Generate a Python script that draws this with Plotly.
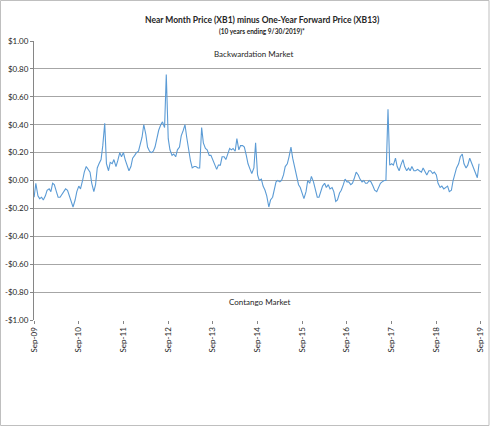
import pandas as pd
import plotly.graph_objects as go

# XB1 minus XB13, two points per month (1st and 15th)
# each list runs Oct 1 -> Sep 15 of the next year
y2010 = [-0.12, -0.02, -0.11, -0.13, -0.12, -0.14, -0.11, -0.07, -0.06, -0.08, -0.02, -0.03,
         -0.08, -0.12, -0.12, -0.10, -0.07, -0.06, -0.07, -0.11, -0.16, -0.19, -0.14, -0.08]
y2011 = [-0.04, -0.06, 0.00, 0.06, 0.10, 0.08, 0.06, -0.02, -0.08, -0.03, 0.09, 0.12,
         0.15, 0.25, 0.41, 0.12, 0.07, 0.13, 0.12, 0.15, 0.10, 0.14, 0.20, 0.17]
y2012 = [0.20, 0.15, 0.10, 0.07, 0.10, 0.16, 0.18, 0.20, 0.21, 0.25, 0.31, 0.40,
         0.33, 0.24, 0.21, 0.20, 0.21, 0.24, 0.30, 0.36, 0.40, 0.42, 0.38, 0.76]
y2013 = [0.30, 0.22, 0.18, 0.19, 0.17, 0.22, 0.24, 0.32, 0.36, 0.40, 0.31, 0.23,
         0.14, 0.09, 0.10, 0.10, 0.09, 0.09, 0.38, 0.27, 0.23, 0.22, 0.18, 0.18]
y2014 = [0.15, 0.12, 0.08, 0.11, 0.11, 0.17, 0.17, 0.15, 0.19, 0.23, 0.22, 0.23,
         0.21, 0.30, 0.22, 0.25, 0.25, 0.24, 0.18, 0.12, 0.08, 0.05, 0.09, 0.27]
y2015 = [0.04, 0.00, 0.01, -0.04, -0.07, -0.11, -0.19, -0.14, -0.12, -0.06, -0.01, 0.00,
         -0.01, 0.00, 0.04, 0.10, 0.12, 0.17, 0.24, 0.16, 0.09, 0.05, -0.03, -0.05]
y2016 = [-0.09, -0.13, -0.08, 0.00, -0.02, 0.03, -0.01, -0.06, -0.12, -0.12, -0.07, -0.04,
         -0.02, -0.05, -0.03, -0.06, -0.05, -0.08, -0.15, -0.14, -0.09, -0.07, -0.03, 0.01]
y2017 = [-0.01, -0.01, -0.03, -0.02, 0.02, 0.06, 0.04, 0.01, -0.01, 0.00, -0.02, -0.02,
         0.00, -0.01, -0.04, -0.07, -0.08, -0.05, -0.02, -0.01, 0.00, 0.00, 0.51, 0.11]
y2018 = [0.12, 0.11, 0.16, 0.10, 0.07, 0.11, 0.15, 0.10, 0.07, 0.09, 0.07, 0.10,
         0.07, 0.07, 0.08, 0.07, 0.06, 0.09, 0.06, 0.04, 0.07, 0.07, 0.05, 0.06]
y2019 = [0.04, -0.02, -0.05, -0.04, -0.06, -0.05, -0.04, -0.08, -0.07, 0.00, 0.05, 0.09,
         0.12, 0.17, 0.19, 0.12, 0.09, 0.11, 0.16, 0.13, 0.10, 0.07, 0.02, 0.12]

spread = y2010 + y2011 + y2012 + y2013 + y2014 + y2015 + y2016 + y2017 + y2018 + y2019
dates = pd.date_range("2009-10-01", periods=len(spread), freq="SMS")

x_tick_dates = ["2009-09-30", "2010-09-30", "2011-09-30", "2012-09-30", "2013-09-30", "2014-09-30",
                "2015-09-30", "2016-09-30", "2017-09-30", "2018-09-30", "2019-09-29"]
x_tick_labels = ["Sep-09", "Sep-10", "Sep-11", "Sep-12", "Sep-13", "Sep-14",
                 "Sep-15", "Sep-16", "Sep-17", "Sep-18", "Sep-19"]
y_ticks = [-1.0, -0.8, -0.6, -0.4, -0.2, 0.0, 0.2, 0.4, 0.6, 0.8, 1.0]
y_tick_labels = ["-$1.00", "-$0.80", "-$0.60", "-$0.40", "-$0.20", "$0.00",
                 "$0.20", "$0.40", "$0.60", "$0.80", "$1.00"]

FONT = "Lato"
W, H = 491, 427
ML, MR, MT, MB = 34, 10, 41, 107
pw, ph = W - ML - MR, H - MT - MB


def px_x(px):
    return (px - ML) / pw


def px_y(py):
    return (H - MB - py) / ph


fig = go.Figure()
fig.add_trace(go.Scatter(
    x=dates, y=spread, mode="lines",
    line=dict(color="#5b9bd5", width=1.1),
    showlegend=False, hoverinfo="x+y",
))

fig.update_layout(
    width=W, height=H,
    margin=dict(l=ML, r=MR, t=MT, b=MB, autoexpand=False),
    paper_bgcolor="white", plot_bgcolor="white",
    font=dict(family=FONT, size=8, color="#262626"),
    xaxis=dict(
        range=["2009-09-30", "2019-10-01"],
        tickvals=x_tick_dates, ticktext=x_tick_labels,
        tickangle=-90, showgrid=False, zeroline=False, automargin=False,
        ticks="outside", ticklen=3, tickcolor="#868686",
        tickfont=dict(family=FONT, size=8, color="#262626"),
    ),
    yaxis=dict(
        range=[-1.0, 1.0],
        tickvals=y_ticks, ticktext=y_tick_labels, automargin=False,
        showgrid=True, gridcolor="#a6a6a6", gridwidth=1,
        zeroline=False, showline=True, linecolor="#868686", linewidth=1,
        ticks="outside", ticklen=3, tickcolor="#868686",
        tickfont=dict(family=FONT, size=8, color="#262626"),
    ),
)

fig.add_annotation(text="<b>Near Month Price (XB1) minus One-Year Forward Price (XB13)</b>",
                   xref="paper", yref="paper", x=px_x(262), y=px_y(13),
                   showarrow=False, font=dict(family=FONT, size=8.5, color="#262626"))
fig.add_annotation(text="<b>(10 years ending 9/30/2019)*</b>",
                   xref="paper", yref="paper", x=px_x(262), y=px_y(25),
                   showarrow=False, font=dict(family=FONT, size=6.5, color="#262626"))
fig.add_annotation(text="Backwardation Market", xref="paper", yref="y",
                   x=px_x(254), y=0.905, showarrow=False,
                   font=dict(family=FONT, size=8, color="#262626"))
fig.add_annotation(text="Contango Market", xref="paper", yref="y",
                   x=px_x(259), y=-0.87, showarrow=False,
                   font=dict(family=FONT, size=8, color="#262626"))

# chart-area border like the spreadsheet chart
fig.add_shape(type="rect", xref="paper", yref="paper",
              x0=px_x(0.5), x1=px_x(489), y0=px_y(425.5), y1=px_y(0.5),
              line=dict(color="#bfbfbf", width=1))

# the page's default body margin would push the chart 8px in
fig.write_html("out.html", config={"displayModeBar": False},
               post_script="document.body.style.margin='0px';")
